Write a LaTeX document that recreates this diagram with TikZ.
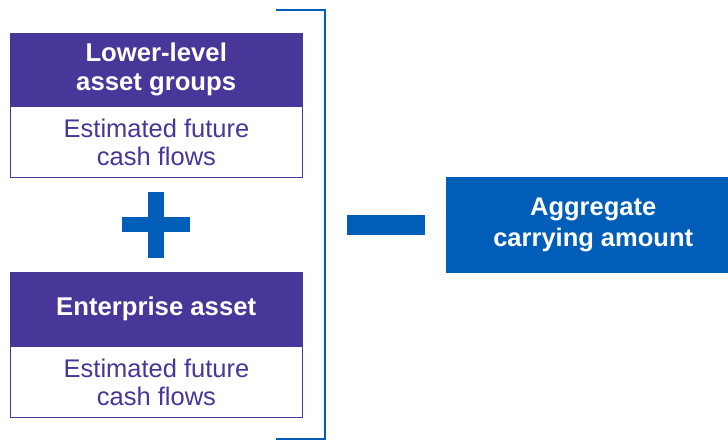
\documentclass[tikz,border=0pt]{standalone}
\usepackage{fontspec}
\setmainfont{Liberation Sans}
\definecolor{kpurple}{HTML}{483698}
\definecolor{kblue}{HTML}{005EB8}
\tikzset{
  hdr/.style={fill=kpurple, draw=kpurple, text=white, font=\fontsize{25.7}{29}\selectfont\bfseries, align=center, inner sep=0pt, minimum width=292pt, anchor=north west},
  bdy/.style={fill=white, draw=kpurple, line width=1pt, text=kpurple, font=\fontsize{25.5}{28}\selectfont, align=center, inner sep=0pt, minimum width=292pt, anchor=north west},
  bar/.style={fill=kblue, draw=none},
}
\begin{document}
\begin{tikzpicture}[x=1pt,y=-1pt]
\useasboundingbox (0,0) rectangle (728,441);
% top group
\node[bdy, minimum height=71pt] (b1) at (10,106) {Estimated future\\cash flows};
\node[hdr, minimum height=73pt] (h1) at (10,33) {Lower-level\\asset groups};
% bottom group
\node[bdy, minimum height=71pt] (b2) at (10,346) {Estimated future\\cash flows};
\node[hdr, minimum height=74pt] (h2) at (10,272) {Enterprise asset};
% plus
\fill[kblue] (148,192) rectangle (164,258);
\fill[kblue] (122,217) rectangle (190,232);
% bracket
\draw[kblue, line width=2pt] (276,10) -- (325,10) -- (325,439) -- (276,439);
% minus
\fill[kblue] (347,215) rectangle (425,235);
% result
\node[fill=kblue, draw=none, text=white, font=\fontsize{25.5}{31}\selectfont\bfseries, align=center, inner sep=0pt, minimum width=294pt, minimum height=96pt, anchor=north west] (agg) at (446,177) {Aggregate\\carrying amount};
\end{tikzpicture}
\end{document}
